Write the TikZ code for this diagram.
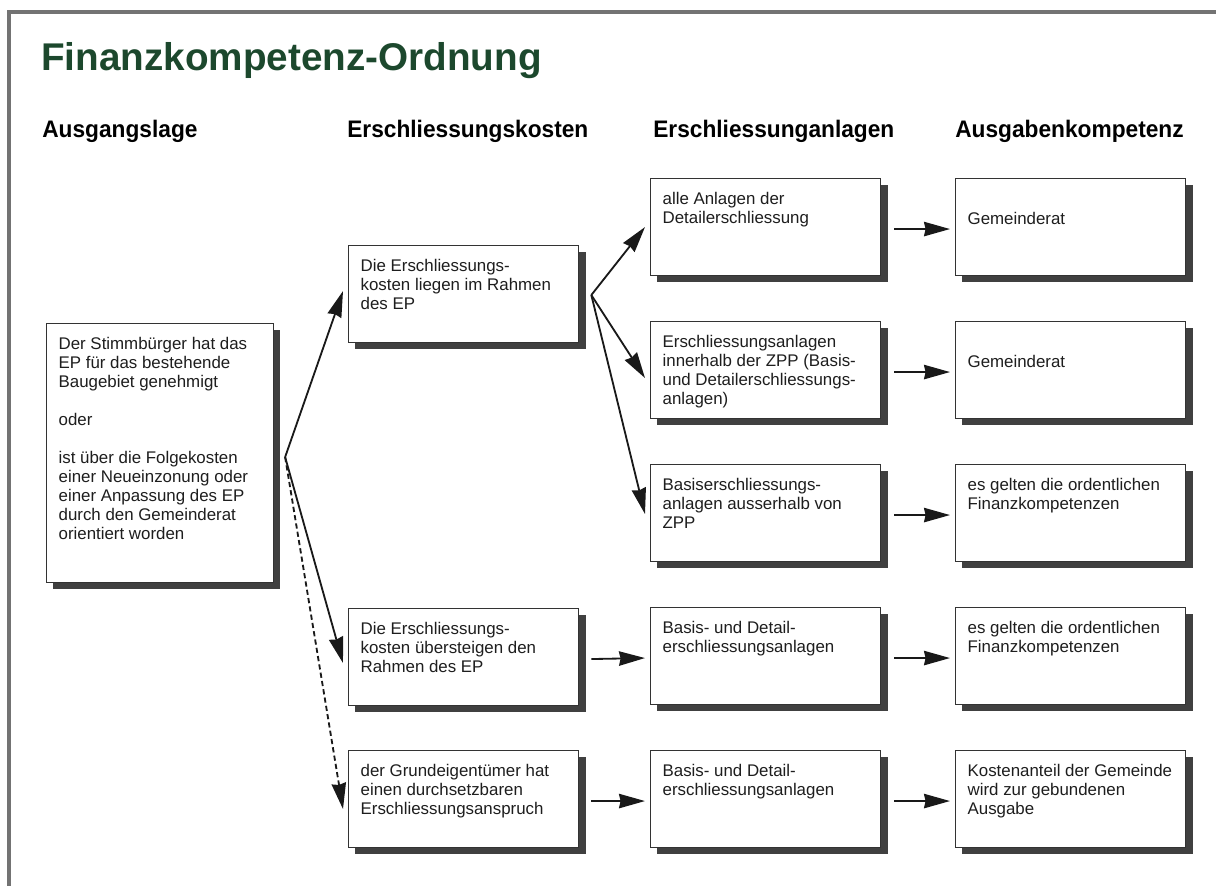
\documentclass[tikz,border=0pt]{standalone}
\usepackage{fontspec}
\setmainfont{Liberation Sans}
\newfontfamily\headfont{Liberation Sans}[FakeStretch=0.95]
\usepackage{tikz}
\usetikzlibrary{arrows.meta, shadows, calc}
\definecolor{titlegreen}{RGB}{28, 72, 45}
\definecolor{ink}{RGB}{30, 30, 30}

\newcommand{\cell}[1]{\parbox[t][1.72cm][t]{5.15cm}{\raggedright #1}}
\newcommand{\tallcell}[1]{\parbox[t][5.77cm][t]{5.07cm}{\raggedright #1}}

\begin{document}
\begin{tikzpicture}[x=0.025cm, y=-0.025cm,
  panel/.style={draw=black!80, line width=0.9pt, fill=white, anchor=north west,
    inner xsep=0.3cm, inner ysep=0.35cm, text=ink,
    font=\fontsize{12}{13.5}\selectfont,
    drop shadow={shadow xshift=0.17cm, shadow yshift=-0.17cm, fill=black!75, opacity=1}},
  head/.style={anchor=base west, inner sep=0pt, font=\headfont\bfseries\fontsize{17}{20}\selectfont},
  link/.style={draw=black!90, line width=1.3pt, -{Stealth[length=0.65cm, width=0.36cm, inset=0.04cm]}}
]
  \useasboundingbox (0,0) rectangle (1216,886);
  \draw[black!55, line width=2.4pt] (9,886) -- (9,12) -- (1216,12);

  \node[anchor=base west, inner sep=0pt, text=titlegreen,
        font=\bfseries\fontsize{27.5}{30}\selectfont] (title) at (41,71) {Finanzkompetenz-Ordnung};

  \node[head] (h1) at (42,138) {Ausgangslage};
  \node[head] (h2) at (347,138) {Erschliessungskosten};
  \node[head] (h3) at (653,138) {Erschliessunganlagen};
  \node[head] (h4) at (955,138) {Ausgabenkompetenz};

  % Ausgangslage
  \node[panel] (a) at (46,323) {\tallcell{Der Stimmbürger hat das\\EP für das bestehende\\Baugebiet genehmigt\\[13.5pt]
    oder\\[13.5pt]
    ist über die Folgekosten\\einer Neueinzonung oder\\einer Anpassung des EP\\durch den Gemeinderat\\orientiert worden}};

  % Erschliessungskosten
  \node[panel] (k1) at (348,245) {\cell{Die Erschliessungs-\\kosten liegen im Rahmen\\des EP}};
  \node[panel] (k2) at (348,608) {\cell{Die Erschliessungs-\\kosten übersteigen den\\Rahmen des EP}};
  \node[panel] (k3) at (348,750) {\cell{der Grundeigentümer hat\\einen durchsetzbaren\\Erschliessungsanspruch}};

  % Erschliessunganlagen
  \node[panel] (e1) at (650,178) {\cell{alle Anlagen der\\Detailerschliessung}};
  \node[panel] (e2) at (650,321) {\cell{Erschliessungsanlagen\\innerhalb der ZPP (Basis-\\und Detailerschliessungs-\\anlagen)}};
  \node[panel] (e3) at (650,464) {\cell{Basiserschliessungs-\\anlagen ausserhalb von\\ZPP}};
  \node[panel] (e4) at (650,607) {\cell{Basis- und Detail-\\erschliessungsanlagen}};
  \node[panel] (e5) at (650,750) {\cell{Basis- und Detail-\\erschliessungsanlagen}};

  % Ausgabenkompetenz
  \node[panel] (g1) at (955,178) {\cell{\strut\\Gemeinderat}};
  \node[panel] (g2) at (955,321) {\cell{\strut\\Gemeinderat}};
  \node[panel] (g3) at (955,464) {\cell{es gelten die ordentlichen\\Finanzkompetenzen}};
  \node[panel] (g4) at (955,607) {\cell{es gelten die ordentlichen\\Finanzkompetenzen}};
  \node[panel] (g5) at (955,750) {\cell{Kostenanteil der Gemeinde\\wird zur gebundenen\\Ausgabe}};

  \coordinate (a-out) at ($(a.east)+(11,4)$);
  \coordinate (k1-out) at ($(k1.east)+(12,1)$);

  \draw[link] (a-out) -- ($(k1.west)+(-5,-3)$);
  \draw[link] (a-out) -- ($(k2.west)+(-5,6)$);
  \draw[link, dash pattern=on 0.13cm off 0.08cm] (a-out) -- ($(k3.west)+(-5,10)$);

  \draw[link] (k1-out) -- ($(e1.west)+(-5,0)$);
  \draw[link] (k1-out) -- ($(e2.west)+(-5,8)$);
  \draw[link] (k1-out) -- ($(e3.west)+(-5,1)$);
  \draw[link] ($(k2.east)+(12,2)$) -- ($(e4.west)+(-5,2)$);
  \draw[link] ($(k3.east)+(12,2)$) -- ($(e5.west)+(-5,2)$);

  \foreach \i in {1,...,5}
    \draw[link] ($(e\i.east)+(13,2)$) -- ($(g\i.west)+(-5,2)$);
\end{tikzpicture}
\end{document}
